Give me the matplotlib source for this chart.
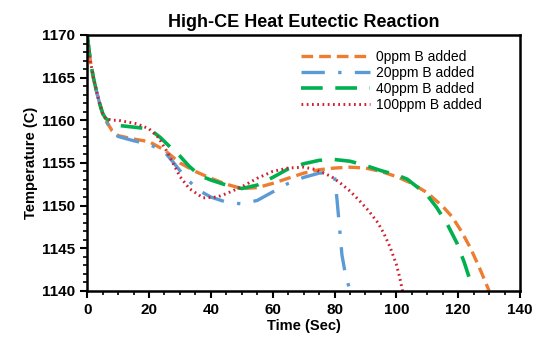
import matplotlib.pyplot as plt
from matplotlib.ticker import MultipleLocator

plt.rcParams['font.family'] = ['Liberation Sans', 'DejaVu Sans']

labels = ["0ppm B added", "20ppm B added", "40ppm B added", "100ppm B added"]

t0 = [0, 1, 2, 3, 4, 5, 6, 8, 10, 15, 20, 25, 30, 35, 40, 45, 50, 55, 60, 65, 70, 75, 80, 85, 90,
      95, 100, 105, 110, 115, 118, 121, 124, 127, 130]
y0 = [1170, 1167, 1165, 1163.4, 1162, 1160.8, 1160, 1158.8, 1158.2, 1157.8, 1157.5, 1156.5, 1155,
      1154, 1153.2, 1152.5, 1152, 1152.1, 1152.6, 1153.2, 1153.8, 1154.2, 1154.4, 1154.5, 1154.4,
      1154, 1153.4, 1152.6, 1151.5, 1149.9, 1148.7, 1147, 1145, 1142.6, 1140]

t20 = [0, 1, 2, 3, 4, 5, 6, 8, 10, 15, 20, 25, 28, 32, 36, 40, 45, 50, 55, 60, 65, 70, 75, 78,
       80, 80.8, 81.6, 82.4, 83.5, 85]
y20 = [1170, 1167, 1165, 1163.4, 1162, 1160.8, 1160, 1158.7, 1158.1, 1157.6, 1157.2, 1156.3, 1155,
       1153.2, 1151.8, 1151, 1150.4, 1150.2, 1150.6, 1151.6, 1152.6, 1153.3, 1153.8, 1153.9, 1153.5,
       1150.7, 1147.5, 1144.2, 1142, 1140]

t40 = [0, 1, 2, 3, 4, 5, 6, 8, 10, 15, 20, 23.6, 27, 30, 33, 36.5, 40, 45, 50, 55, 60, 65, 70,
       75, 80, 85, 90, 95, 100, 103.5, 107, 110, 113, 116.5, 119.6, 122, 124.5]
y40 = [1170, 1167, 1165, 1163.4, 1162, 1160.8, 1160.2, 1159.8, 1159.4, 1159.2, 1159, 1158,
       1156.8, 1155.8, 1154.6, 1153.5, 1153, 1152.4, 1152, 1152.4, 1153.3, 1154.3, 1154.9, 1155.3,
       1155.4, 1155.2, 1154.7, 1154.1, 1153.6, 1153.1, 1152.1, 1151.2, 1149.8, 1147.8, 1145.6,
       1143.3, 1140.5]

t100 = [0, 1, 2, 3, 4, 5, 6, 8, 10, 13, 16, 20, 23, 26, 30, 33, 37.5, 42, 45, 50, 55, 60, 65, 70,
        73, 76, 79, 82, 85, 88, 91, 94, 96, 98, 100, 101, 102]
y100 = [1170, 1167, 1165, 1163.4, 1162, 1160.8, 1160.2, 1160, 1160, 1159.8, 1159.6, 1159, 1158,
        1156.2, 1153.4, 1152, 1150.9, 1151, 1151.4, 1152.2, 1153.2, 1154, 1154.4, 1154.5,
        1154.3, 1153.9, 1153.4, 1152.6, 1151.7, 1150.6, 1149.4, 1148, 1146.7, 1145.1, 1143.1,
        1141.7, 1140]

fig = plt.figure(figsize=(5.35, 3.43), dpi=100)
ax = fig.add_axes([0.163, 0.152, 0.809, 0.746])

ax.plot(t0, y0, color='#ED7D31', lw=2.4, dashes=(3.5, 1.8), label=labels[0])
ax.plot(t20, y20, color='#5B9BD5', lw=2.4, dashes=(7, 4, 1, 4), label=labels[1])
ax.plot(t40, y40, color='#00B050', lw=2.6, dashes=(6, 3.5), label=labels[2])
ax.plot(t100, y100, color='#D02030', lw=2.1, linestyle=(0, (0.6, 1.2)), label=labels[3])

ax.set_xlim(0, 140)
ax.set_ylim(1140, 1170)
ax.xaxis.set_major_locator(MultipleLocator(20))
ax.xaxis.set_minor_locator(MultipleLocator(5))
ax.yaxis.set_major_locator(MultipleLocator(5))
ax.yaxis.set_minor_locator(MultipleLocator(1))
ax.tick_params(which='major', length=5, width=1.5, labelsize=11)
ax.tick_params(which='minor', length=3, width=1.2)
for lab in ax.get_xticklabels() + ax.get_yticklabels():
    lab.set_fontweight('bold')
for s in ax.spines.values():
    s.set_linewidth(1.8)

ax.set_title("High-CE Heat Eutectic Reaction", fontsize=13, fontweight='bold', pad=6)
ax.set_xlabel("Time (Sec)", fontsize=10.5, fontweight='bold', labelpad=2)
ax.set_ylabel("Temperature (C)", fontsize=10.5, fontweight='bold', labelpad=3)

ax.legend(loc='upper right', frameon=False, fontsize=10, handlelength=5.0,
          handletextpad=0.4, labelspacing=0.15, borderaxespad=0.5,
          bbox_to_anchor=(0.94, 0.99))

fig.savefig("out.png", dpi=100)
